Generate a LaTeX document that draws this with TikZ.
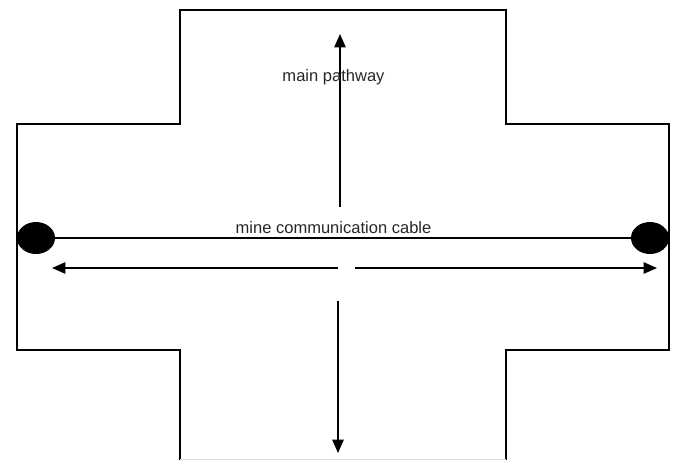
\documentclass[tikz,border=0pt]{standalone}
\usepackage{fontspec}
\setmainfont{Liberation Sans}
\usetikzlibrary{arrows.meta,shapes.geometric}
\tikzset{
  wall/.style={draw=black,line width=1.1pt},
  cable/.style={draw=black,line width=1.1pt},
  flow/.style={draw=black,line width=1.2pt,-{Triangle[length=10pt,width=8.5pt]}},
  endpoint/.style={ellipse,fill=black,inner sep=0pt,minimum width=28.5pt,minimum height=24pt},
  lbl/.style={inner sep=0pt,text=black!85,font=\fontsize{12.4}{14}\selectfont}
}
\begin{document}
\begin{tikzpicture}[x=0.75pt,y=-0.75pt]
\useasboundingbox (0,0) rectangle (675,461);
\path[wall] (180,460) -- (180,350) -- (17,350) -- (17,124) -- (180,124) -- (180,10) -- (506,10) -- (506,124) -- (669,124) -- (669,350) -- (506,350) -- (506,460);
\path[draw=black!12,line width=0.8pt] (180,459.5) -- (506,459.5);
\node[endpoint] (l) at (36,238) {};
\node[endpoint] (r) at (650,238) {};
\draw[cable] (l) -- (r);
\coordinate (c1) at (340,207); \coordinate (c1e) at (340,34);
\coordinate (c2) at (338,268); \coordinate (c2e) at (52,268);
\coordinate (c3) at (355,268); \coordinate (c3e) at (657,268);
\coordinate (c4) at (338,301); \coordinate (c4e) at (338,453);
\draw[flow] (c1) -- (c1e);
\draw[flow] (c2) -- (c2e);
\draw[flow] (c3) -- (c3e);
\draw[flow] (c4) -- (c4e);
\node[lbl] (t1) at (333.5,77) {main pathway};
\node[lbl] (t2) at (333.5,228) {mine communication cable};
\end{tikzpicture}
\end{document}
